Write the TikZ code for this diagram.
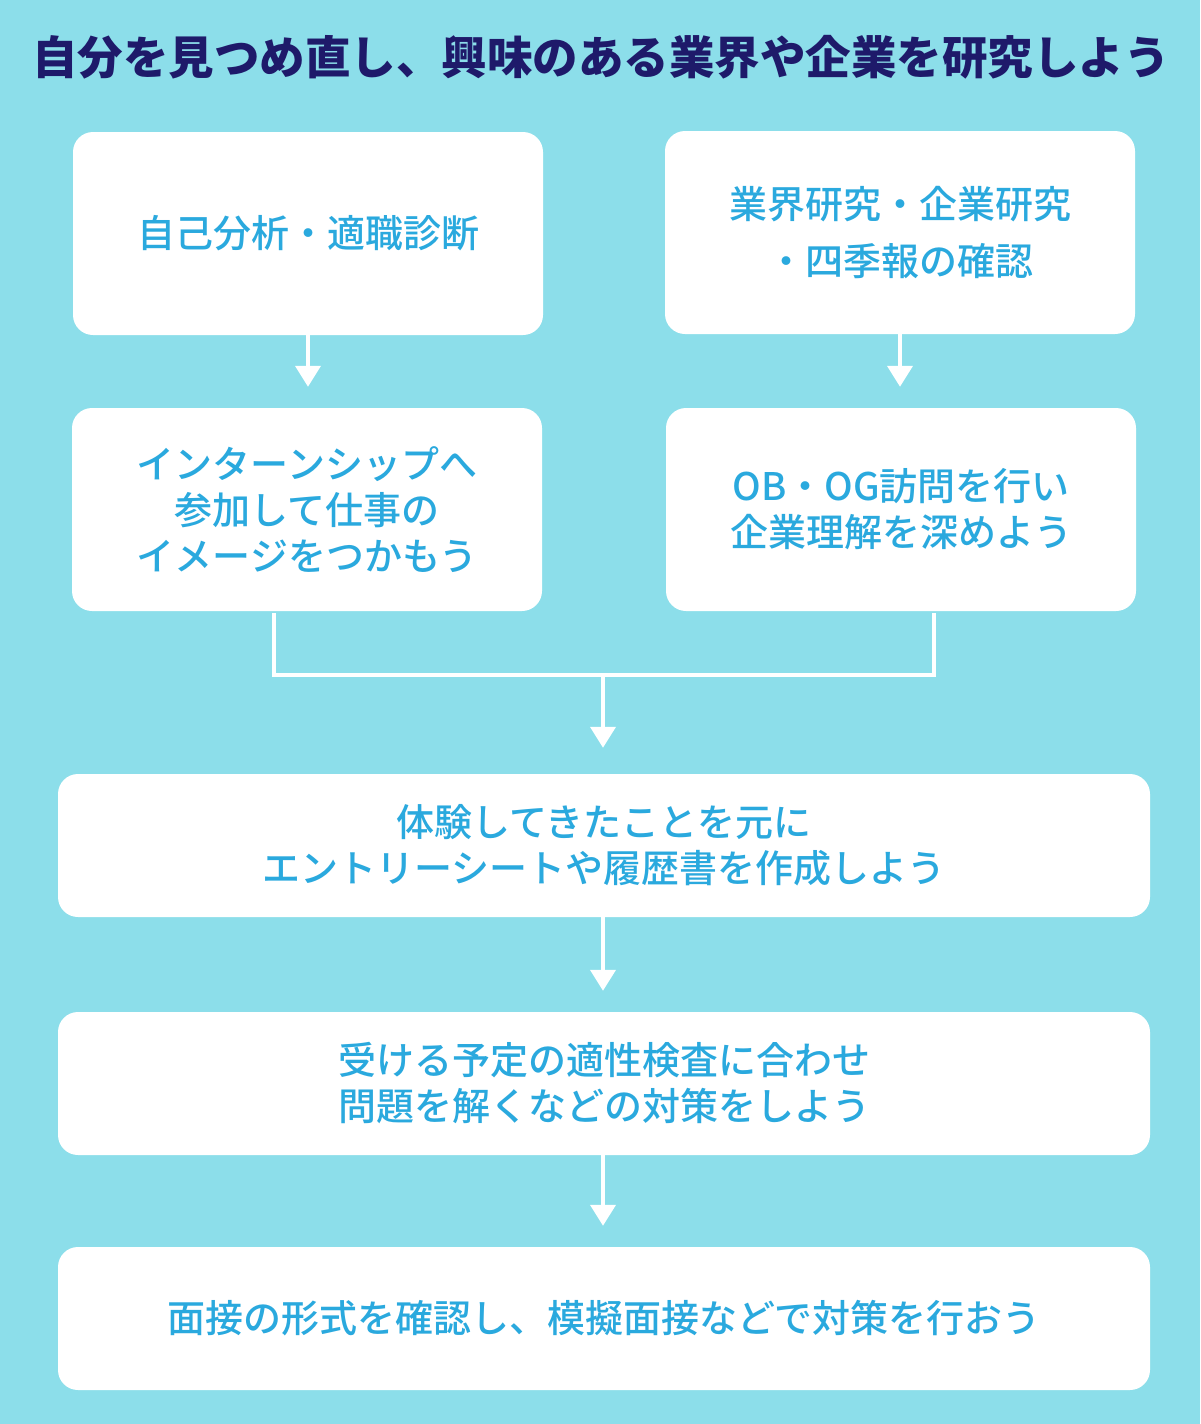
\documentclass[tikz,border=0pt]{standalone}
\usepackage{fontspec}
\setmainfont{Noto Sans CJK JP}
\newfontfamily\medfont{Noto Sans CJK JP Medium}
\usetikzlibrary{arrows.meta}
\definecolor{bgcyan}{HTML}{8CDEEA}
\definecolor{navy}{HTML}{1E1A6A}
\definecolor{txtblue}{HTML}{2AA9DE}
\begin{document}
\begin{tikzpicture}[x=1pt,y=-1pt,
    stepbox/.style={draw=none,fill=white,rounded corners=20pt,align=center,
      text=txtblue,font=\medfont\fontsize{38}{46}\selectfont,inner sep=0pt},
    smallbox/.style={stepbox,minimum width=470pt,minimum height=203pt},
    widebox/.style={stepbox,minimum width=1092pt,minimum height=143pt},
    link/.style={draw=white,line width=4pt},
    arr/.style={link,-{Triangle[width=25pt,length=21pt]},shorten >=21pt}]
  \fill[bgcyan] (0,0) rectangle (1200,1424);
  \useasboundingbox (0,0) rectangle (1200,1424);
  \draw
    (601,57) node[text=navy,font=\fontsize{45.5}{54}\selectfont\bfseries] (title)
      {自分を見つめ直し、興味のある業界や企業を研究しよう}
    (308,233.5) node[smallbox] (self) {自己分析・適職診断}
    (900,232.5) node[smallbox] (study) {業界研究・企業研究\\[11pt]・四季報の確認}
    (307,509.5) node[smallbox] (intern)
      {インターンシップへ\\参加して仕事の\\イメージをつかもう}
    (901,509.5) node[smallbox] (visit) {OB・OG訪問を行い\\企業理解を深めよう}
    (604,845.5) node[widebox] (sheet)
      {体験してきたことを元に\\エントリーシートや履歴書を作成しよう}
    (604,1083.5) node[widebox] (test)
      {受ける予定の適性検査に合わせ\\問題を解くなどの対策をしよう}
    (604,1318.5) node[widebox] (interview)
      {面接の形式を確認し、模擬面接などで対策を行おう};
  \coordinate (merge) at (603,675);
  \begin{scope}[link]
    \draw[arr] (self.south) -- (self.south |- intern.north);
    \draw[arr] (study.south) -- (study.south |- visit.north);
    \draw ([xshift=-33pt,yshift=-2pt]intern.south) |- (merge)
      -| ([xshift=33pt,yshift=-2pt]visit.south);
    \draw[arr,shorten >=26pt] (merge) -- (merge |- sheet.north);
    \draw[arr] (sheet.south -| merge) -- (merge |- test.north);
    \draw[arr] (test.south -| merge) -- (merge |- interview.north);
  \end{scope}
\end{tikzpicture}
\end{document}
